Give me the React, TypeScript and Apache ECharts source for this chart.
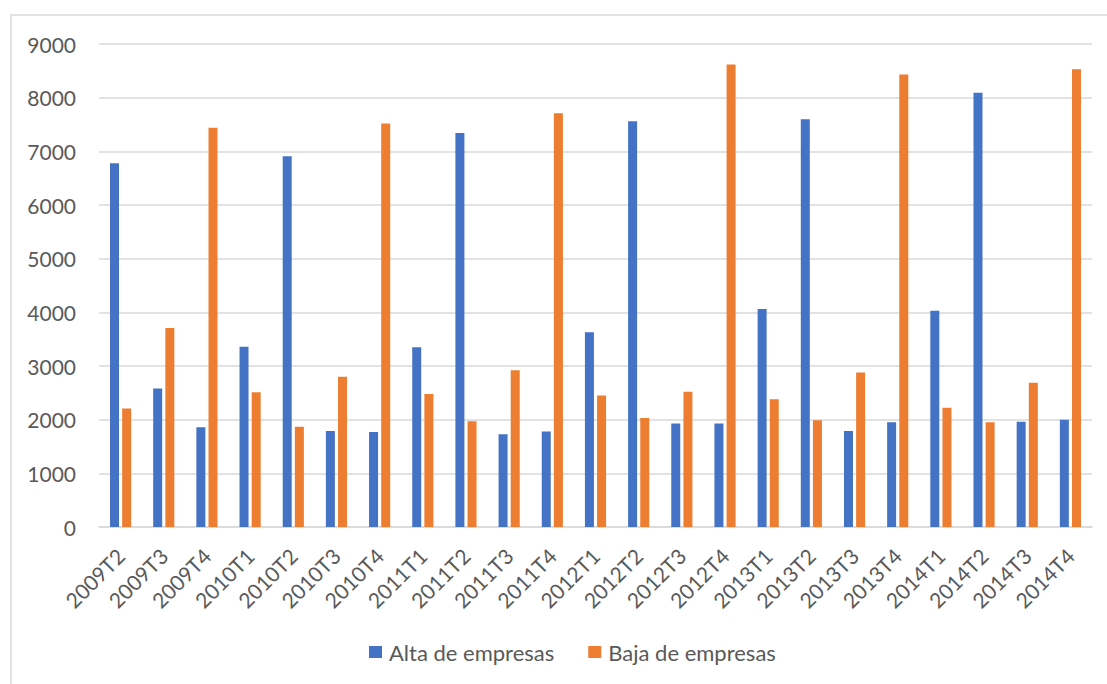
import React, { useEffect, useRef } from "react";
import * as echarts from "echarts";

const categories = [
  "2009T2", "2009T3", "2009T4", "2010T1", "2010T2", "2010T3", "2010T4",
  "2011T1", "2011T2", "2011T3", "2011T4", "2012T1", "2012T2", "2012T3",
  "2012T4", "2013T1", "2013T2", "2013T3", "2013T4", "2014T1", "2014T2",
  "2014T3", "2014T4",
];

const altaEmpresas = [
  6780, 2580, 1860, 3360, 6910, 1790, 1770, 3350, 7340, 1730, 1780, 3630,
  7560, 1930, 1930, 4060, 7600, 1790, 1950, 4030, 8090, 1960, 2000,
];

const bajaEmpresas = [
  2210, 3710, 7440, 2510, 1870, 2800, 7520, 2480, 1970, 2920, 7710, 2450,
  2030, 2520, 8620, 2380, 1990, 2880, 8430, 2220, 1950, 2690, 8530,
];

const yTicks = { min: 0, max: 9000, interval: 1000 };

export default function App() {
  const ref = useRef<HTMLDivElement>(null);

  useEffect(() => {
    if (!ref.current) return;
    const chart = echarts.init(ref.current, undefined, { renderer: "svg" });
    const font = "Lato, 'Noto Sans', sans-serif";
    chart.setOption({
      animation: false,
      backgroundColor: "#ffffff",
      graphic: [
        {
          type: "rect",
          shape: { x: 11, y: 15, width: 1300, height: 900 },
          style: { fill: "none", stroke: "#d9d9d9", lineWidth: 1.5 },
          silent: true,
        },
      ],
      grid: { left: 99, right: 15, top: 44, bottom: 157, containLabel: false },
      legend: {
        bottom: 16,
        left: 364,
        itemWidth: 13,
        itemHeight: 12,
        itemGap: 34,
        icon: "rect",
        textStyle: { color: "#595959", fontSize: 22, fontFamily: font, padding: [0, 0, 0, 2] },
        data: ["Alta de empresas", "Baja de empresas"],
      },
      xAxis: {
        type: "category",
        data: categories,
        axisLine: { show: true, lineStyle: { color: "#d9d9d9", width: 1.5 } },
        axisTick: { show: false },
        axisLabel: {
          rotate: 45,
          interval: 0,
          color: "#595959",
          fontSize: 21,
          fontFamily: font,
          margin: 25,
        },
      },
      yAxis: {
        type: "value",
        min: yTicks.min,
        max: yTicks.max,
        interval: yTicks.interval,
        axisLine: { show: false },
        axisTick: { show: false },
        splitLine: { lineStyle: { color: "#d9d9d9", width: 1.5 } },
        axisLabel: {
          color: "#595959",
          fontSize: 21,
          fontFamily: font,
          margin: 23,
          formatter: (v: number) => String(v),
        },
      },
      series: [
        {
          name: "Alta de empresas",
          type: "bar",
          data: altaEmpresas,
          barWidth: 9,
          barGap: "35%",
          itemStyle: { color: "#4472C4" },
        },
        {
          name: "Baja de empresas",
          type: "bar",
          data: bajaEmpresas,
          barWidth: 9,
          itemStyle: { color: "#ED7D31" },
        },
      ],
    });
    return () => chart.dispose();
  }, []);

  return (
    <div
      ref={ref}
      style={{ position: "absolute", left: 0, top: 0, width: 1107, height: 684 }}
    />
  );
}
